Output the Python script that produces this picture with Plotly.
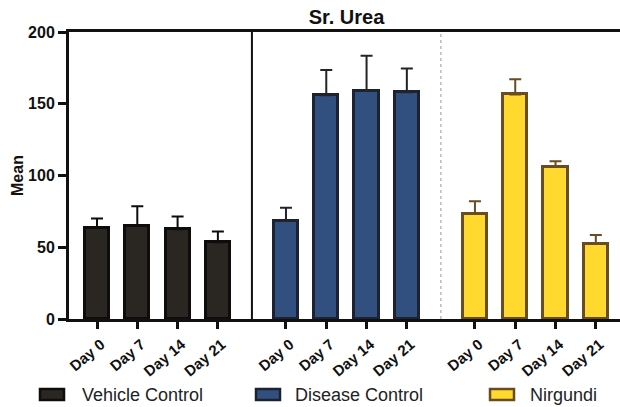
import plotly.graph_objects as go

groups = ["Vehicle Control", "Disease Control", "Nirgundi"]
days = ["Day 0", "Day 7", "Day 14", "Day 21"]
means = {
    "Vehicle Control": [63.5, 65.0, 62.5, 53.5],
    "Disease Control": [68.5, 156.0, 159.0, 158.0],
    "Nirgundi": [73.5, 156.5, 106.0, 52.5],
}
err_up = {
    "Vehicle Control": [6.5, 13.5, 9.0, 7.5],
    "Disease Control": [9.0, 17.5, 24.5, 16.5],
    "Nirgundi": [8.5, 10.5, 4.0, 6.0],
}
fills = ["#2a2723", "#32507f", "#ffd92e"]
lines = ["#0e0d0c", "#1d2230", "#6a4c22"]
err_colors = ["#0e0d0c", "#22242a", "#6a4c22"]

GAP = 0.69
FONT = "Liberation Sans, Arial, sans-serif"
W, H = 620, 407
L, R, T, B = 69, 0, 32, 88
PW, PH = W - L - R, H - T - B


def px_x(p):
    return (p - L) / PW


def px_y(p):
    return (H - B - p) / PH


fig = go.Figure()
tickvals, ticktext = [], []
for g, name in enumerate(groups):
    xs = [g * (len(days) + GAP) + i for i in range(len(days))]
    tickvals += xs
    ticktext += days
    fig.add_trace(go.Bar(
        x=xs, y=means[name], name=name, width=0.6, showlegend=False,
        marker=dict(color=fills[g], line=dict(color=lines[g], width=3)),
        error_y=dict(type="data", array=err_up[name], symmetric=False,
                     arrayminus=[0] * len(days), color=err_colors[g],
                     thickness=2, width=6),
    ))

step = len(days) + GAP
sep1 = (3 + step) / 2
sep2 = (step + 3 + 2 * step) / 2
fig.add_shape(type="line", xref="x", yref="y", x0=sep1, x1=sep1, y0=0, y1=200,
              line=dict(color="#111", width=2))
fig.add_shape(type="line", xref="x", yref="y", x0=sep2, x1=sep2, y0=0, y1=200,
              line=dict(color="#9a9a9a", width=1, dash="dot"))

# legend (swatches + labels)
sw_left = [40, 256, 490]
txt_left = [80, 293, 528]
for g, name in enumerate(groups):
    fig.add_shape(type="rect", xref="paper", yref="paper",
                  x0=px_x(sw_left[g]), x1=px_x(sw_left[g] + 24),
                  y0=px_y(400), y1=px_y(389),
                  fillcolor=fills[g], line=dict(color=lines[g], width=2.5))
    fig.add_annotation(text=name, xref="paper", yref="paper", x=px_x(txt_left[g]),
                       y=px_y(394.5), xanchor="left", yanchor="middle", showarrow=False,
                       font=dict(family=FONT, size=18, color="#222"))

fig.update_layout(
    width=W, height=H,
    margin=dict(l=L, r=R, t=T, b=B),
    plot_bgcolor="white", paper_bgcolor="white",
    showlegend=False,
    title=dict(text="<b>Sr. Urea</b>", x=346.5 / W, xanchor="center",
               y=1 - 16.5 / H, yanchor="middle", font=dict(family=FONT, size=20, color="#111")),
    bargap=0,
)
fig.update_xaxes(
    range=[-0.695, 12.98], tickvals=tickvals, ticktext=ticktext, tickangle=-40,
    ticks="outside", ticklen=7, tickwidth=3, tickcolor="#111", automargin=False,
    ticklabelstandoff=1, ticklabelshift=4,
    showline=True, linecolor="#111", linewidth=3, mirror=True, showgrid=False, zeroline=False,
    tickfont=dict(family=FONT, size=15, color="#111", weight="bold"),
)
fig.update_yaxes(
    range=[0, 200], tickvals=[0, 50, 100, 150, 200], automargin=False,
    ticks="outside", ticklen=8, tickwidth=3, tickcolor="#111",
    showline=True, linecolor="#111", linewidth=3, showgrid=False, zeroline=False,
    tickfont=dict(family=FONT, size=16, color="#111", weight="bold"),
    title=dict(text="<b>Mean</b>", font=dict(family=FONT, size=16, color="#111"), standoff=1),
)
fig.write_html("out.html", config={"displayModeBar": False},
               post_script="document.body.style.margin='0';document.body.style.overflow='hidden';")
